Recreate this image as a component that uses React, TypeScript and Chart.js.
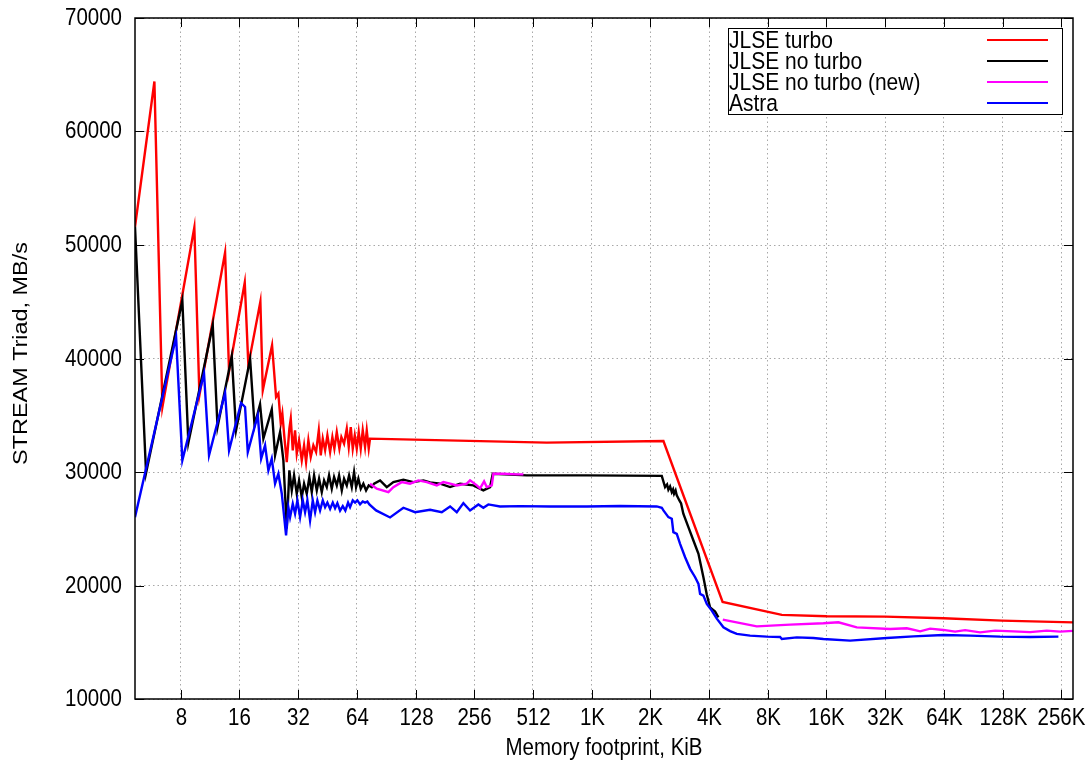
import React, { useEffect, useRef } from 'react';
import { Chart, registerables } from 'chart.js';

Chart.register(...registerables);

// ---------- data ----------
const xTickValues = [8, 16, 32, 64, 128, 256, 512, 1024, 2048, 4096, 8192, 16384, 32768, 65536, 131072, 262144];
const xTickLabels = ['8', '16', '32', '64', '128', '256', '512', '1K', '2K', '4K', '8K', '16K', '32K', '64K', '128K', '256K'];
const yTickValues = [10000, 20000, 30000, 40000, 50000, 60000, 70000];
const xTitle = 'Memory footprint, KiB';
const yTitle = 'STREAM Triad, MB/s';

const seriesNames = ['JLSE turbo', 'JLSE no turbo', 'JLSE no turbo (new)', 'Astra'];
const seriesColors = ['#ff0000', '#000000', '#ff00ff', '#0000ff'];

// [memory footprint KiB, MB/s]
const jlseTurbo: [number, number][] = [
  [4.66, 51610], [5.86, 64405], [6.44, 35730], [9.39, 51560], [9.97, 36760], [13.5, 49335], [14.15, 38880],
  [17.03, 46690], [17.77, 39410], [20.48, 45010], [21.07, 37200], [23.51, 41170], [24.65, 36610], [25.33, 36910],
  [26.06, 34260], [26.55, 35145], [27.19, 33080], [27.97, 30875], [28.84, 33820], [29.32, 34705], [30.02, 31905],
  [30.85, 33670], [31.47, 31615], [32.34, 32790], [33.39, 31025], [34.31, 32350], [35.13, 30875], [36.1, 32790],
  [37.13, 31315], [38.29, 32350], [39.53, 31755], [40.82, 33670], [41.79, 31465], [42.79, 32940], [43.98, 31905],
  [45.18, 33230], [46.65, 31755], [47.92, 33080], [49.07, 32055], [50.48, 33520], [52.06, 32055], [53.3, 33080],
  [55.02, 32500], [56.8, 33820], [58.15, 32200], [59.54, 33960], [60.96, 32055], [62.42, 33230], [63.9, 32055],
  [65.43, 33520], [66.99, 32055], [68.59, 33670], [70.48, 32200], [71.91, 33670], [73.62, 32055], [74.76, 32940],
  [602, 32585], [2389, 32725], [4805, 18555], [9667, 17410], [16440, 17285], [32768, 17260], [65150, 17110],
  [129840, 16905], [301000, 16755],
];

const jlseNoTurbo: [number, number][] = [
  [4.66, 51610], [5.31, 29920], [8.15, 45116], [8.75, 32569], [11.67, 42937], [12.35, 33963], [14.61, 40202],
  [15.37, 33672], [18.14, 39963], [19.12, 34113], [20.4, 35966], [21.22, 32939], [23.43, 35525], [24.36, 31466],
  [25.84, 33522], [26.87, 31025], [27.97, 25024], [28.84, 30142], [29.67, 28377], [30.49, 29701], [31.47, 28086],
  [32.34, 29260], [33.39, 27786], [34.31, 28969], [35.42, 28086], [36.52, 29551], [37.57, 28227], [38.61, 29701],
  [39.86, 28377], [40.96, 29410], [42.28, 28227], [43.45, 29260], [44.85, 28669], [46.09, 29701], [47.58, 28527],
  [48.9, 29551], [50.48, 28819], [51.87, 29701], [53.55, 28377], [55.02, 29410], [56.8, 28819], [58.37, 29701],
  [60.26, 28669], [61.92, 29992], [63.39, 28669], [65.14, 29410], [67.01, 28527], [69.1, 28969], [71.34, 28377],
  [73.62, 28819], [76.31, 28669], [78.41, 28969], [84.17, 29260], [91.1, 28669], [98.48, 29110], [110.8, 29322],
  [124.7, 29110], [140.4, 29260], [151.9, 29083], [170.9, 28969], [192.4, 28669], [216.5, 28969], [253.3, 28819],
  [285, 28377], [308.6, 28669], [318.5, 29850], [475.9, 29701], [966.5, 29701], [2343, 29657], [2436, 28669],
  [2494, 28907], [2533, 28439], [2584, 28730], [2637, 28227], [2678, 28465], [2709, 28086], [2758, 28377],
  [2797, 27936], [2884, 27495], [2943, 27229], [3022, 26321], [3208, 25139], [3404, 23965], [3613, 22792],
  [3830, 20727], [3986, 19200], [4144, 18080], [4397, 17701], [4572, 17197],
];

const jlseNoTurboNew: [number, number | null][] = [
  [74.76, 28969], [80.95, 28527], [92.84, 28227], [98.48, 28669], [108.7, 29110], [119.9, 28969], [132.3, 29260],
  [146.1, 29110], [164.4, 28819], [177.7, 29110], [192.4, 28969], [208.2, 28819], [234.3, 28969], [243.6, 29260],
  [263.7, 28819], [274.2, 28553], [287.4, 29171], [296.7, 28669], [314.8, 28819], [320.9, 29850], [361, 29850],
  [423, 29790], [457.2, 29790], [1000, null], [4815, 16994], [7193, 16403], [10661, 16553], [15796, 16668],
  [18858, 16756], [23437, 16315], [34721, 16174], [42293, 16227], [46648, 16067], [49490, 15962], [55697, 16200],
  [65150, 16085], [74810, 15935], [84194, 16067], [100488, 15874], [119957, 16024], [148898, 15962],
  [181353, 15892], [220907, 16024], [258450, 15935], [301000, 16005],
];

const astra: [number, number][] = [
  [4.66, 26021], [7.57, 41905], [8.15, 31025], [10.53, 38675], [11.17, 31466], [13.5, 36963], [14.15, 31905],
  [16.3, 36081], [17.09, 35728], [17.65, 31755], [19.86, 34995], [20.67, 31174], [21.65, 32348], [22.51, 30142],
  [23.43, 31174], [24.36, 28969], [25.33, 29850], [26.37, 28086], [27.74, 24407], [28.5, 26904], [29.08, 26021],
  [30.02, 27204], [30.85, 26321], [31.7, 27495], [32.73, 26021], [33.79, 27495], [34.72, 26462], [35.67, 27495],
  [36.83, 25730], [38.02, 27495], [39.07, 26462], [40.14, 27495], [41.44, 26613], [42.79, 27495], [43.98, 26904],
  [45.18, 27300], [46.65, 26750], [48.15, 27300], [49.47, 26800], [50.84, 27250], [52.48, 26600], [54.18, 27000],
  [55.87, 26600], [57.68, 27300], [59.06, 26900], [60.96, 27500], [62.65, 27300], [64.37, 27500], [66.46, 27150],
  [68.59, 27400], [70.48, 27300], [72.44, 27400], [74.18, 27150], [80.28, 26613], [94.71, 25995], [110.8, 26851],
  [127.2, 26462], [151.9, 26674], [174.4, 26462], [192.4, 26966], [208.2, 26462], [225.1, 27257], [243.6, 26613],
  [268.7, 27142], [285, 26851], [302.4, 27142], [347, 26966], [439, 26992], [626, 26966], [966.5, 26966],
  [1432, 27009], [2209, 26966], [2343, 26851], [2389, 26613], [2533, 26021], [2637, 25880], [2687, 24697],
  [2797, 24556], [2908, 23674], [3086, 22492], [3274, 21468], [3474, 20727], [3613, 20145], [3683, 19262],
  [3830, 19112], [3986, 18380], [4229, 17789], [4486, 17083], [4851, 16315], [5248, 15980], [5680, 15732],
  [6646, 15583], [8096, 15494], [9473, 15468], [9667, 15291], [11536, 15433], [14033, 15380], [15796, 15291],
  [21653, 15141], [33390, 15380], [45718, 15521], [65150, 15645], [89293, 15583], [127258, 15494],
  [181353, 15468], [253310, 15494],
];

const xMin = 4.66;
const xMax = 301000;
const yMin = 10000;
const yMax = 70000;

// ---------- styling ----------
const FONT = "'Liberation Sans', Arial, Helvetica, sans-serif";
const STRETCH = 1.17; // the reference text is slightly taller than wide

const framePlugin = {
  id: 'gnuplotFrame',
  afterDraw(chart: any) {
    const { ctx, chartArea } = chart;
    const { left, right, top, bottom } = chartArea;
    const xs = chart.scales.x;
    const ys = chart.scales.y;
    ctx.save();
    const line = (x1: number, y1: number, x2: number, y2: number) => {
      ctx.beginPath();
      ctx.moveTo(x1, y1);
      ctx.lineTo(x2, y2);
      ctx.stroke();
    };
    const text = (s: string, x: number, y: number, align: CanvasTextAlign, size: number, rot = 0) => {
      ctx.save();
      ctx.translate(x, y);
      if (rot) {
        ctx.rotate(rot);
        ctx.scale(STRETCH, 1);
      } else {
        ctx.scale(1, STRETCH);
      }
      ctx.font = `${size}px ${FONT}`;
      ctx.textAlign = align;
      ctx.textBaseline = 'middle';
      ctx.fillStyle = '#000';
      ctx.fillText(s, 0, 0);
      ctx.restore();
    };

    // inward tick marks
    ctx.strokeStyle = '#000';
    ctx.lineWidth = 1;
    const tick = 9;
    for (const v of yTickValues) {
      const py = Math.round(ys.getPixelForValue(v)) + 0.5;
      line(left, py, left + tick, py);
      line(right, py, right - tick, py);
      text(String(v), left - 13, py, 'right', 20.5);
    }
    xTickValues.forEach((v, i) => {
      const px = Math.round(xs.getPixelForValue(v)) + 0.5;
      line(px, bottom, px, bottom - tick);
      line(px, top, px, top + tick);
      text(xTickLabels[i], px, bottom + 19.5, 'center', 20.5);
    });
    ctx.lineWidth = 1.5;
    ctx.strokeRect(left, top, right - left, bottom - top);

    // axis titles
    text(xTitle, (left + right) / 2, bottom + 49, 'center', 20.5);
    text(yTitle, 21, (top + bottom) / 2 - 5, 'center', 20, -Math.PI / 2);

    // legend (gnuplot style, opaque box)
    const bx = right - 345;
    const by = top + 10;
    const bw = 334;
    const bh = 86;
    ctx.fillStyle = '#fff';
    ctx.fillRect(bx, by, bw, bh);
    ctx.lineWidth = 1;
    ctx.strokeStyle = '#000';
    ctx.strokeRect(bx + 0.5, by + 0.5, bw, bh);
    seriesNames.forEach((name, i) => {
      const ry = by + 12 + i * 21;
      text(name, bx + 1, ry + 1, 'left', 21);
      ctx.strokeStyle = seriesColors[i];
      ctx.lineWidth = 2;
      line(bx + 259, ry, bx + 320, ry);
    });
    ctx.restore();
  },
};

function toPoints(arr: [number, number | null][]) {
  return arr.map(([x, y]) => ({ x, y }));
}

export default function App() {
  const ref = useRef<HTMLCanvasElement>(null);

  useEffect(() => {
    const canvas = ref.current;
    if (!canvas) return;
    const series = [jlseTurbo, jlseNoTurbo, jlseNoTurboNew, astra];
    const orders = [4, 3, 2, 1];
    const chart = new Chart(canvas, {
      type: 'line',
      data: {
        datasets: series.map((s, i) => ({
          label: seriesNames[i],
          data: toPoints(s as any),
          borderColor: seriesColors[i],
          backgroundColor: seriesColors[i],
          borderWidth: 2.4,
          pointRadius: 0,
          tension: 0,
          fill: false,
          spanGaps: false,
          order: orders[i],
        })),
      },
      options: {
        responsive: false,
        animation: false,
        devicePixelRatio: 1,
        layout: { padding: { top: 18, right: 14, left: 0, bottom: 0 } },
        plugins: {
          legend: { display: false },
          tooltip: { enabled: false },
        },
        scales: {
          x: {
            type: 'logarithmic',
            min: xMin,
            max: xMax,
            afterBuildTicks: (s: any) => {
              s.ticks = xTickValues.map((v) => ({ value: v }));
            },
            afterFit: (s: any) => {
              s.height = 64;
              s.paddingLeft = 0;
              s.paddingRight = 0;
            },
            ticks: { display: false, autoSkip: false },
            grid: { color: '#a8a8a8', lineWidth: 1, drawTicks: false },
            border: { display: false, dash: [1.5, 3] },
            title: { display: false },
          },
          y: {
            type: 'linear',
            min: yMin,
            max: yMax,
            afterBuildTicks: (s: any) => {
              s.ticks = yTickValues.map((v) => ({ value: v }));
            },
            afterFit: (s: any) => {
              s.width = 135;
              s.paddingTop = 0;
              s.paddingBottom = 0;
            },
            ticks: { display: false },
            grid: { color: '#a8a8a8', lineWidth: 1, drawTicks: false },
            border: { display: false, dash: [1.5, 3] },
            title: { display: false },
          },
        },
      },
      plugins: [framePlugin],
    } as any);
    return () => chart.destroy();
  }, []);

  return (
    <div style={{ position: 'fixed', left: 0, top: 0, width: 1087, height: 763, background: '#fff' }}>
      <canvas ref={ref} width={1087} height={763} style={{ display: 'block', width: 1087, height: 763 }} />
    </div>
  );
}
